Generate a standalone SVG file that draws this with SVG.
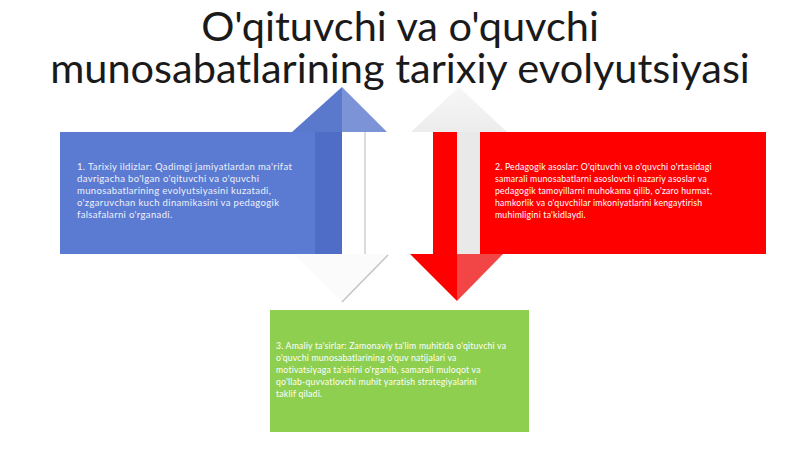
<svg xmlns="http://www.w3.org/2000/svg" width="800" height="449" viewBox="0 0 800 449">
<defs>
<style>
.title{font-family:Lato,"Liberation Sans",sans-serif;font-size:41.5px;fill:#1a1a1a;text-anchor:middle}
.body{font-family:Lato,"Liberation Sans",sans-serif;font-size:8.7px;letter-spacing:0.2px;fill:#ffffff}
.bodyb{font-family:Lato,"Liberation Sans",sans-serif;font-size:9.5px;letter-spacing:0.35px;fill:#eef1fb}
</style>
<linearGradient id="gHead" x1="0" y1="0" x2="0" y2="1">
<stop offset="0" stop-color="#f7f7f7"/><stop offset="1" stop-color="#ececec"/>
</linearGradient>
</defs>
<rect width="800" height="449" fill="#ffffff"/>
<g id="title">
<text class="title" x="400" y="41">O'qituvchi va o'quvchi</text>
<text class="title" x="400" y="83">munosabatlarining tarixiy evolyutsiyasi</text>
</g>
<g id="connectors">
<polygon points="411,132 459,87 507,132" fill="url(#gHead)"/>
<polygon points="294,254 342,302 388,254" fill="#fbfbfb"/>
<line x1="388" y1="255" x2="342" y2="302" stroke="#c4c4c4" stroke-width="1.5"/>
<line x1="365" y1="132" x2="365" y2="254" stroke="#cfcfcf" stroke-width="1.5"/>
<polygon points="292,132 342,87 342,132" fill="#5a78cc"/>
<polygon points="342,87 387,132 342,132" fill="#7c93d8"/>
<rect x="433" y="132" width="24" height="122" fill="#ff0000"/>
<rect x="457" y="132" width="23" height="122" fill="#e9e9e9"/>
<polygon points="410,254 457,301 457,254" fill="#ff0000"/>
<polygon points="457,254 457,301 503,254" fill="#f24545"/>
</g>
<g id="node-blue">
<rect x="60" y="132" width="282" height="122" fill="#5b7bd2"/>
<rect x="315" y="132" width="27" height="122" fill="#4f6dc6"/>
<text class="bodyb">
<tspan x="77" y="170">1. Tarixiy ildizlar: Qadimgi jamiyatlardan ma'rifat</tspan>
<tspan x="77" y="182">davrigacha bo'lgan o'qituvchi va o'quvchi</tspan>
<tspan x="77" y="194">munosabatlarining evolyutsiyasini kuzatadi,</tspan>
<tspan x="77" y="206">o'zgaruvchan kuch dinamikasini va pedagogik</tspan>
<tspan x="77" y="218">falsafalarni o'rganadi.</tspan>
</text>
</g>
<g id="node-red">
<rect x="480" y="132" width="286" height="122" fill="#ff0000"/>
<text class="body">
<tspan x="495" y="170">2. Pedagogik asoslar: O'qituvchi va o'quvchi o'rtasidagi</tspan>
<tspan x="495" y="182">samarali munosabatlarni asoslovchi nazariy asoslar va</tspan>
<tspan x="495" y="194">pedagogik tamoyillarni muhokama qilib, o'zaro hurmat,</tspan>
<tspan x="495" y="206">hamkorlik va o'quvchilar imkoniyatlarini kengaytirish</tspan>
<tspan x="495" y="218">muhimligini ta'kidlaydi.</tspan>
</text>
</g>
<g id="node-green">
<rect x="270" y="310" width="259" height="122" fill="#8fcf4f"/>
<text class="body">
<tspan x="276" y="349">3. Amaliy ta'sirlar: Zamonaviy ta'lim muhitida o'qituvchi va</tspan>
<tspan x="276" y="361">o'quvchi munosabatlarining o'quv natijalari va</tspan>
<tspan x="276" y="373">motivatsiyaga ta'sirini o'rganib, samarali muloqot va</tspan>
<tspan x="276" y="385">qo'llab-quvvatlovchi muhit yaratish strategiyalarini</tspan>
<tspan x="276" y="397">taklif qiladi.</tspan>
</text>
</g>
</svg>
